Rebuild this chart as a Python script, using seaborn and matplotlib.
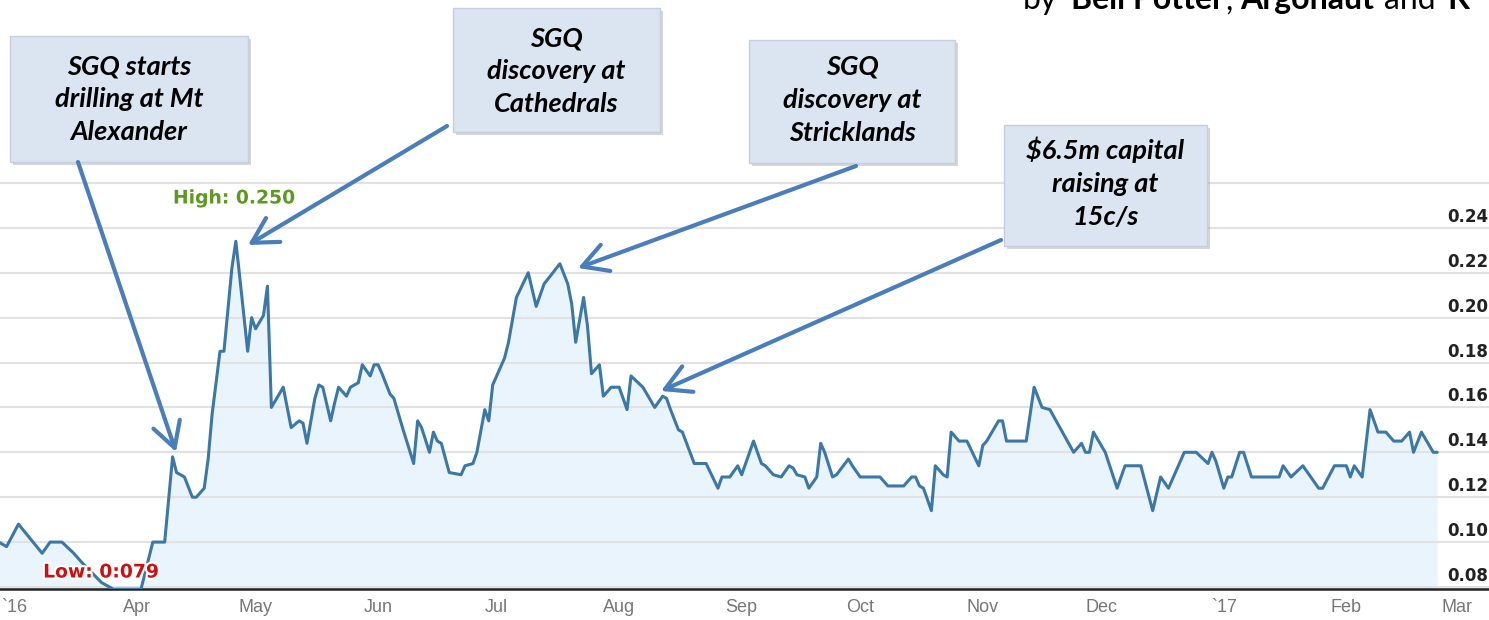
import numpy as np
import pandas as pd
import matplotlib
matplotlib.use("Agg")
import matplotlib.pyplot as plt
import matplotlib.patheffects as pe
from matplotlib.patches import Rectangle, FancyArrowPatch
import seaborn as sns

# ---------------- data ----------------
dates = [
    "2016-02-26", "2016-02-28", "2016-03-02", "2016-03-08", "2016-03-10", "2016-03-13",
    "2016-03-16", "2016-03-18", "2016-03-23", "2016-03-26", "2016-04-02", "2016-04-05",
    "2016-04-08", "2016-04-10", "2016-04-11", "2016-04-13", "2016-04-15", "2016-04-16",
    "2016-04-18", "2016-04-19", "2016-04-20", "2016-04-22", "2016-04-23", "2016-04-25",
    "2016-04-26", "2016-04-27", "2016-04-29", "2016-04-30", "2016-05-01", "2016-05-03",
    "2016-05-04", "2016-05-05", "2016-05-08", "2016-05-10", "2016-05-12", "2016-05-13",
    "2016-05-14", "2016-05-16", "2016-05-17", "2016-05-18", "2016-05-20", "2016-05-21",
    "2016-05-22", "2016-05-24", "2016-05-25", "2016-05-27", "2016-05-28", "2016-05-30",
    "2016-05-31", "2016-06-01", "2016-06-02", "2016-06-04", "2016-06-05", "2016-06-07",
    "2016-06-10", "2016-06-11", "2016-06-12", "2016-06-14", "2016-06-15", "2016-06-16",
    "2016-06-17", "2016-06-19", "2016-06-22", "2016-06-23", "2016-06-25", "2016-06-26",
    "2016-06-28", "2016-06-29", "2016-06-30", "2016-07-01", "2016-07-03", "2016-07-04",
    "2016-07-06", "2016-07-09", "2016-07-11", "2016-07-13", "2016-07-17", "2016-07-19",
    "2016-07-20", "2016-07-21", "2016-07-23", "2016-07-24", "2016-07-25", "2016-07-27",
    "2016-07-28", "2016-07-30", "2016-08-01", "2016-08-03", "2016-08-04", "2016-08-07",
    "2016-08-10", "2016-08-12", "2016-08-13", "2016-08-14", "2016-08-16", "2016-08-17",
    "2016-08-20", "2016-08-23", "2016-08-26", "2016-08-27", "2016-08-29", "2016-08-31",
    "2016-09-01", "2016-09-04", "2016-09-06", "2016-09-07", "2016-09-09", "2016-09-11",
    "2016-09-13", "2016-09-14", "2016-09-15", "2016-09-17", "2016-09-18", "2016-09-20",
    "2016-09-21", "2016-09-22", "2016-09-24", "2016-09-25", "2016-09-28", "2016-09-29",
    "2016-10-01", "2016-10-06", "2016-10-08", "2016-10-12", "2016-10-14", "2016-10-15",
    "2016-10-16", "2016-10-17", "2016-10-19", "2016-10-20", "2016-10-22", "2016-10-23",
    "2016-10-24", "2016-10-26", "2016-10-28", "2016-10-31", "2016-11-01", "2016-11-02",
    "2016-11-05", "2016-11-06", "2016-11-07", "2016-11-12", "2016-11-14", "2016-11-16",
    "2016-11-18", "2016-11-24", "2016-11-26", "2016-11-27", "2016-11-28", "2016-11-29",
    "2016-12-02", "2016-12-05", "2016-12-07", "2016-12-11", "2016-12-14", "2016-12-16",
    "2016-12-18", "2016-12-22", "2016-12-25", "2016-12-28", "2016-12-29", "2016-12-30",
    "2017-01-01", "2017-01-02", "2017-01-03", "2017-01-05", "2017-01-06", "2017-01-08",
    "2017-01-15", "2017-01-16", "2017-01-18", "2017-01-21", "2017-01-25", "2017-01-26",
    "2017-01-29", "2017-02-01", "2017-02-02", "2017-02-03", "2017-02-05", "2017-02-07",
    "2017-02-09", "2017-02-11", "2017-02-13", "2017-02-15", "2017-02-17", "2017-02-18",
    "2017-02-20", "2017-02-22", "2017-02-23", "2017-02-24",
]
prices = [
    0.100, 0.098, 0.108, 0.095, 0.100, 0.100,
    0.095, 0.091, 0.082, 0.079, 0.079, 0.100,
    0.100, 0.138, 0.131, 0.129, 0.120, 0.120,
    0.124, 0.137, 0.157, 0.185, 0.185, 0.222,
    0.234, 0.218, 0.185, 0.200, 0.195, 0.201,
    0.214, 0.160, 0.169, 0.151, 0.154, 0.153,
    0.144, 0.164, 0.170, 0.169, 0.154, 0.162,
    0.169, 0.165, 0.169, 0.171, 0.179, 0.174,
    0.179, 0.179, 0.175, 0.166, 0.164, 0.152,
    0.135, 0.154, 0.151, 0.140, 0.149, 0.145,
    0.144, 0.131, 0.130, 0.134, 0.135, 0.140,
    0.159, 0.154, 0.170, 0.174, 0.182, 0.189,
    0.209, 0.220, 0.205, 0.215, 0.224, 0.215,
    0.206, 0.189, 0.209, 0.196, 0.175, 0.179,
    0.165, 0.169, 0.169, 0.159, 0.174, 0.169,
    0.160, 0.165, 0.164, 0.159, 0.150, 0.149,
    0.135, 0.135, 0.124, 0.129, 0.129, 0.134,
    0.130, 0.145, 0.135, 0.134, 0.130, 0.129,
    0.134, 0.133, 0.130, 0.129, 0.124, 0.129,
    0.144, 0.140, 0.129, 0.130, 0.137, 0.134,
    0.129, 0.129, 0.125, 0.125, 0.129, 0.129,
    0.125, 0.124, 0.114, 0.134, 0.130, 0.129,
    0.149, 0.145, 0.145, 0.134, 0.143, 0.145,
    0.154, 0.154, 0.145, 0.145, 0.169, 0.160,
    0.159, 0.140, 0.144, 0.140, 0.140, 0.149,
    0.140, 0.124, 0.134, 0.134, 0.114, 0.129,
    0.124, 0.140, 0.140, 0.135, 0.140, 0.136,
    0.124, 0.129, 0.129, 0.140, 0.140, 0.129,
    0.129, 0.134, 0.129, 0.134, 0.124, 0.124,
    0.134, 0.134, 0.129, 0.134, 0.129, 0.159,
    0.149, 0.149, 0.145, 0.145, 0.149, 0.140,
    0.149, 0.143, 0.140, 0.140,
]

tick_dates = ["2016-03-01", "2016-04-01", "2016-05-01", "2016-06-01", "2016-07-01",
              "2016-08-01", "2016-09-01", "2016-10-01", "2016-11-01", "2016-12-01",
              "2017-01-01", "2017-02-01", "2017-03-01"]
tick_labels = ["`16", "Apr", "May", "Jun", "Jul", "Aug", "Sep", "Oct", "Nov", "Dec",
               "`17", "Feb", "Mar"]
grid_levels = [0.08, 0.10, 0.12, 0.14, 0.16, 0.18, 0.20, 0.22, 0.24, 0.26]
y_labels = ["0.08", "0.10", "0.12", "0.14", "0.16", "0.18", "0.20", "0.22", "0.24"]

callout_texts = [
    "SGQ starts\ndrilling at Mt\nAlexander",
    "SGQ\ndiscovery at\nCathedrals",
    "SGQ\ndiscovery at\nStricklands",
    "$6.5m capital\nraising at\n15c/s",
]
high_label = "High: 0.250"
low_label = "Low: 0:079"
header_pieces = [("by", "normal"), ("Bell Potter", "bold"), (",", "normal"),
                 ("Argonaut", "bold"), ("and", "normal"), ("K", "bold")]

# ---------------- figure ----------------
sns.set_style("white")
plt.rcParams["font.family"] = ["Liberation Sans", "DejaVu Sans"]

W, H = 1489, 620
fig = plt.figure(figsize=(W / 100, H / 100), dpi=100)
fig.patch.set_facecolor("white")
ax = fig.add_axes([0, 31 / H, 1, 589 / H])


def fx(px):
    return px / W


def fy(py):
    return 1 - py / H


df = pd.DataFrame({"date": pd.to_datetime(dates), "price": prices})
ax.fill_between(df["date"], df["price"], 0.05, color="#eaf4fd", zorder=1, linewidth=0)
sns.lineplot(data=df, x="date", y="price", ax=ax, color="#3b78a8", linewidth=2.2,
             zorder=3)

start = pd.Timestamp("2016-03-01")
ax.set_xlim(start - pd.Timedelta(days=3.67), start + pd.Timedelta(days=373.1))
ax.set_ylim(0.0791, 0.3415)

ax.set_yticks(grid_levels)
ax.set_yticklabels([])
ax.tick_params(axis="y", length=0)
ax.grid(axis="y", color="#e2e2e2", linewidth=1.5)
ax.grid(axis="x", visible=False)
ax.set_axisbelow("line")

ax.set_xticks(pd.to_datetime(tick_dates))
ax.set_xticklabels(tick_labels, color="#777777", fontsize=13)
ax.tick_params(axis="x", length=0, pad=7)
ax.set_xlabel("")
ax.set_ylabel("")
for s in ["top", "left", "right"]:
    ax.spines[s].set_visible(False)
ax.spines["bottom"].set_color("#222222")
ax.spines["bottom"].set_linewidth(1.8)

for lab in y_labels:
    ax.annotate(lab, xy=(1, float(lab)), xycoords=("axes fraction", "data"),
                xytext=(-1, 2), textcoords="offset pixels", ha="right", va="bottom",
                fontweight="bold", fontsize=12, color="#222222",
                family=["DejaVu Sans"], zorder=5)

halo = [pe.withStroke(linewidth=3, foreground="white")]
fig.text(fx(234), fy(198), high_label, ha="center", va="center", color="#5a9a1e",
         fontweight="bold", fontsize=13.5, family=["DejaVu Sans"],
         path_effects=halo, zorder=6)
fig.text(fx(101), fy(572), low_label, ha="center", va="center", color="#cc1010",
         fontweight="bold", fontsize=13.5, family=["DejaVu Sans"],
         path_effects=halo, zorder=6)

# callout boxes
boxes = [(10, 36, 248, 162), (453, 8, 660, 132), (749, 40, 955, 163),
         (1004, 125, 1207, 246)]
text_centres = [99, 71, 100, 183]
for (x0, y0, x1, y1), yc, txt in zip(boxes, text_centres, callout_texts):
    shadow = Rectangle((fx(x0 + 3), fy(y1 + 3)), fx(x1 - x0), (y1 - y0) / H,
                       transform=fig.transFigure, facecolor="#8a8a8a", alpha=0.35,
                       edgecolor="none", zorder=7)
    box = Rectangle((fx(x0), fy(y1)), fx(x1 - x0), (y1 - y0) / H,
                    transform=fig.transFigure, facecolor="#dbe5f1",
                    edgecolor="#c3cfdd", linewidth=1, zorder=8)
    fig.add_artist(shadow)
    fig.add_artist(box)
    fig.text(fx((x0 + x1) / 2), fy(yc), txt, ha="center", va="center",
             fontsize=19.5, fontweight="bold", fontstyle="italic", color="black",
             family=["Lato", "DejaVu Sans"], linespacing=1.45, zorder=9)

# arrows (tail -> tip) in pixel coordinates from the top-left
arrows = [((78, 162), (176, 452)), ((447, 126), (248, 245)),
          ((856, 166), (578, 268)), ((1001, 240), (661, 391))]
for (tx, ty), (hx, hy) in arrows:
    arr = FancyArrowPatch((fx(tx), fy(ty)), (fx(hx), fy(hy)),
                          transform=fig.transFigure,
                          arrowstyle="->,head_length=0.9,head_width=0.5",
                          mutation_scale=20, linewidth=3, color="#4a7ebb",
                          shrinkA=0, shrinkB=0, capstyle="round", joinstyle="round",
                          zorder=10)
    fig.add_artist(arr)

# header text (cut off at the top edge, as in the source slide)
fig.canvas.draw()
renderer = fig.canvas.get_renderer()
xpos = 1023
gaps = [0, 14, 1, 8, 9, 12]
for (piece, weight), gap in zip(header_pieces, gaps):
    xpos += gap
    t = fig.text(fx(xpos), fy(9.3), piece, ha="left", va="baseline", fontsize=23,
                 fontweight=weight, color="black", family=["Lato", "DejaVu Sans"],
                 zorder=11)
    bb = t.get_window_extent(renderer=renderer)
    xpos += bb.width

fig.savefig("out.png", dpi=100, facecolor="white")
